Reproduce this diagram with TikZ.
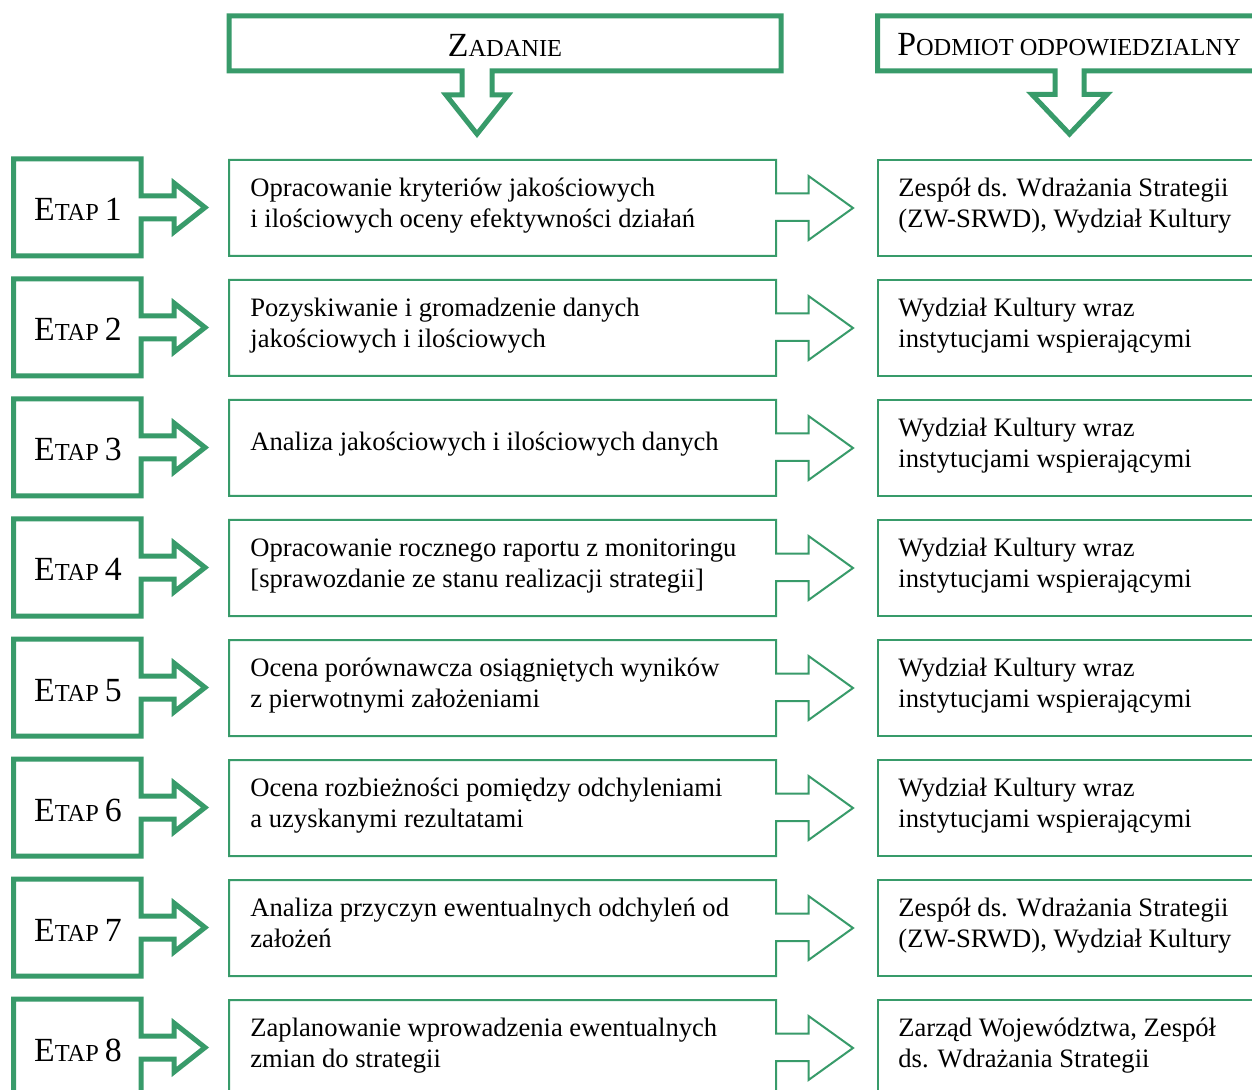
\documentclass[tikz,border=0pt]{standalone}
\usepackage{fontspec}
\setmainfont{Liberation Serif}
\definecolor{gr}{RGB}{56,155,106}
\newcommand\myBody{\fontsize{13.3}{15.5}\selectfont}
\newcommand\myBig{\fontsize{16.9}{20}\selectfont}
\newcommand\mySm{\fontsize{12.2}{14}\selectfont}
\begin{document}
\begin{tikzpicture}[x=0.5pt,y=-0.5pt,
 thickg/.style={draw=gr,line width=2.5pt,line join=miter},
 thing/.style={draw=gr,line width=1pt,line join=miter},
 txt/.style={anchor=north west,inner sep=0pt,align=left,font=\myBody},
 etxt/.style={anchor=base,inner sep=0pt,font=\myBig}]
\useasboundingbox (0,0) rectangle (1252,1090);
\clip (0,0) rectangle (1252,1090);
\fill[white] (0,0) rectangle (1252,1090);
% headers
\draw[thickg] (229,16) -- (781,16) -- (781,71) -- (492,71) -- (492,95) -- (508,95) -- (477,134) -- (446,95) -- (462,95) -- (462,71) -- (229,71) -- cycle;
\draw[thickg] (1265,16) -- (877.5,16) -- (877.5,71) -- (1055,71) -- (1055,94.5) -- (1032,94.5) -- (1069.5,134) -- (1107,94.5) -- (1084,94.5) -- (1084,71) -- (1265,71);
\node[etxt] (h1) at (505,57) {Z{\mySm ADANIE}};
\node[etxt] (h2) at (1069,56) {P{\mySm ODMIOT ODPOWIEDZIALNY}};
% rows
\foreach \i in {0,...,7}{
  \pgfmathsetmacro\o{120*\i}
  \draw[thickg] (13.5,159+\o) -- (141,159+\o) -- (141,196+\o) -- (174,196+\o) -- (174,183+\o) -- (205,207.5+\o) -- (174,232+\o) -- (174,219+\o) -- (141,219+\o) -- (141,256+\o) -- (13.5,256+\o) -- cycle;
  \draw[thing] (229,160+\o) -- (776,160+\o) -- (776,193.5+\o) -- (808.5,193.5+\o) -- (808.5,176+\o) -- (853,208+\o) -- (808.5,240+\o) -- (808.5,221+\o) -- (776,221+\o) -- (776,256+\o) -- (229,256+\o) -- cycle;
  \draw[thing] (1265,160+\o) -- (877.5,160+\o) -- (877.5,256+\o) -- (1265,256+\o);
}
% etap labels
\node[etxt] (e1) at (78,221) {E{\mySm TAP }1};
\node[etxt] (e2) at (78,341) {E{\mySm TAP }2};
\node[etxt] (e3) at (78,461) {E{\mySm TAP }3};
\node[etxt] (e4) at (78,581) {E{\mySm TAP }4};
\node[etxt] (e5) at (78,701) {E{\mySm TAP }5};
\node[etxt] (e6) at (78,821) {E{\mySm TAP }6};
\node[etxt] (e7) at (78,941) {E{\mySm TAP }7};
\node[etxt] (e8) at (78,1061) {E{\mySm TAP }8};
% task texts
\node[txt] (m1) at (250,174.8) {\strut Opracowanie kryteriów jakościowych\\\strut i ilościowych oceny efektywności działań};
\node[txt] (m2) at (250,294.8) {\strut Pozyskiwanie i gromadzenie danych\\\strut jakościowych i ilościowych};
\node[txt] (m3) at (250,428.3) {\strut Analiza jakościowych i ilościowych danych};
\node[txt] (m4) at (250,534.8) {\strut Opracowanie rocznego raportu z monitoringu\\\strut{[}sprawozdanie ze stanu realizacji strategii{]}};
\node[txt] (m5) at (250,654.8) {\strut Ocena porównawcza osiągniętych wyników\\\strut z pierwotnymi założeniami};
\node[txt] (m6) at (250,774.8) {\strut Ocena rozbieżności pomiędzy odchyleniami\\\strut a uzyskanymi rezultatami};
\node[txt] (m7) at (250,894.8) {\strut Analiza przyczyn ewentualnych odchyleń od\\\strut założeń};
\node[txt] (m8) at (250,1014.8) {\strut Zaplanowanie wprowadzenia ewentualnych\\\strut zmian do strategii};
% responsible texts
\node[txt] (r1) at (898,174.8) {\strut Zespół ds. Wdrażania Strategii\\\strut (ZW-SRWD), Wydział Kultury};
\node[txt] (r2) at (898,294.8) {\strut Wydział Kultury wraz\\\strut instytucjami wspierającymi};
\node[txt] (r3) at (898,414.8) {\strut Wydział Kultury wraz\\\strut instytucjami wspierającymi};
\node[txt] (r4) at (898,534.8) {\strut Wydział Kultury wraz\\\strut instytucjami wspierającymi};
\node[txt] (r5) at (898,654.8) {\strut Wydział Kultury wraz\\\strut instytucjami wspierającymi};
\node[txt] (r6) at (898,774.8) {\strut Wydział Kultury wraz\\\strut instytucjami wspierającymi};
\node[txt] (r7) at (898,894.8) {\strut Zespół ds. Wdrażania Strategii\\\strut (ZW-SRWD), Wydział Kultury};
\node[txt] (r8) at (898,1014.8) {\strut Zarząd Województwa, Zespół\\\strut ds. Wdrażania Strategii};
\end{tikzpicture}
\end{document}
